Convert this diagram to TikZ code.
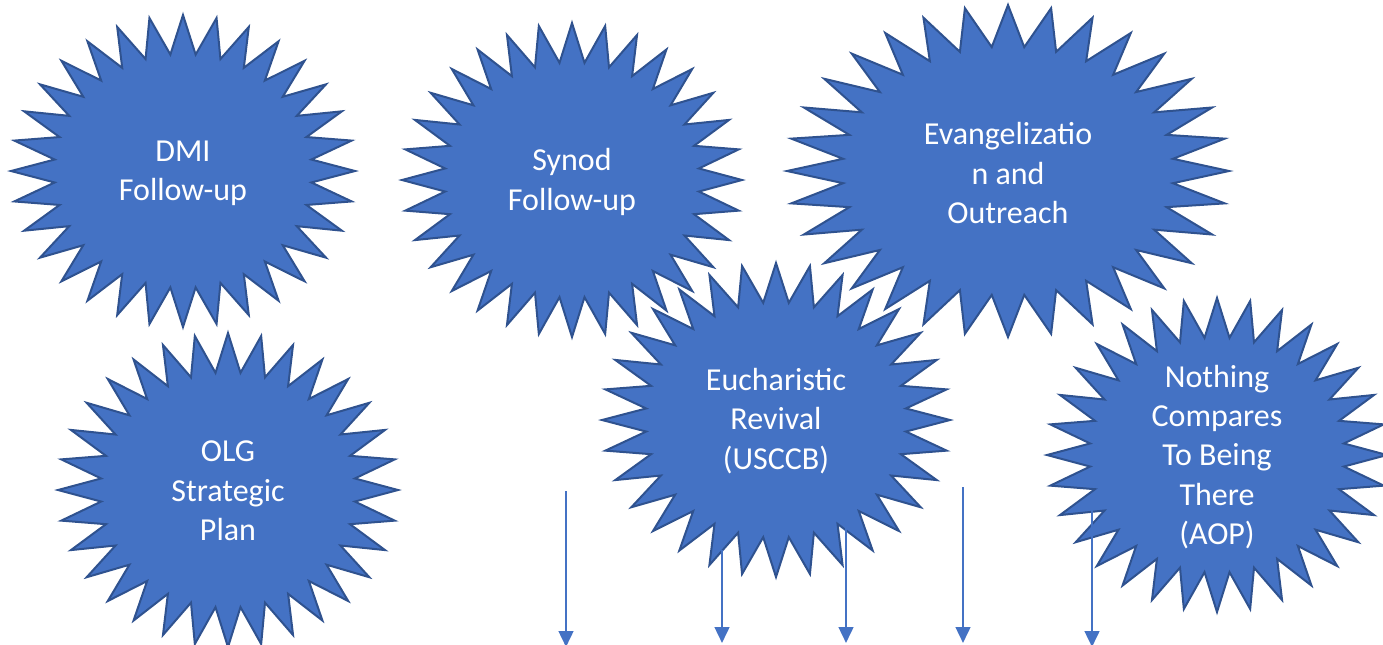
\documentclass[tikz,border=0pt]{standalone}
\usepackage{fontspec}
\setmainfont{Carlito}
\usetikzlibrary{arrows.meta}
\definecolor{burstfill}{HTML}{4472C4}
\definecolor{burstline}{HTML}{2F528F}
\definecolor{arrowblue}{HTML}{4472C4}
\tikzset{
  burst/.style={fill=burstfill, draw=burstline, line width=1.5pt, line join=miter},
  bursttext/.style={text=white, align=center, font=\fontsize{24}{29.5}\selectfont, inner sep=0pt},
  flowarrow/.style={draw=arrowblue, line width=1.9pt, -{Triangle[width=11pt,length=12pt]}},
}
\newcommand\drawburst[4]{%
  \draw[burst] plot[samples at={0,...,63}, variable=\k]
    ({#1+#3*(1-0.25*mod(\k,2))*cos(\k*5.625)}, {#2+#4*(1-0.25*mod(\k,2))*sin(\k*5.625)}) -- cycle;}
\begin{document}
\begin{tikzpicture}[x=0.75pt, y=-0.75pt]
\useasboundingbox (0,0) rectangle (1383,644);
% stars
\drawburst{183}{171}{172}{156}
\node[bursttext] (dmi) at (183,173) {DMI\\Follow-up};
\drawburst{228}{490}{170}{157}
\node[bursttext] (olg) at (228,491) {OLG\\Strategic\\Plan};
\drawburst{572}{180}{170}{157}
\node[bursttext] (synod) at (572,182) {Synod\\Follow-up};
\drawburst{1008}{171}{221}{166}
\node[bursttext] (evang) at (1008,173) {Evangelizatio\\n and\\Outreach};
\drawburst{776}{420}{174}{157}
\node[bursttext] (euch) at (776,421) {Eucharistic\\Revival\\(USCCB)};
\drawburst{1217}{455}{170}{157}
\node[bursttext] (ncbt) at (1217,457) {Nothing\\Compares\\To Being\\There\\(AOP)};
% arrows
\coordinate (a1s) at (566,491); \coordinate (a1e) at (566,647);
\coordinate (a2s) at (722,550); \coordinate (a2e) at (722,643);
\coordinate (a3s) at (846,527); \coordinate (a3e) at (846,643);
\coordinate (a4s) at (963,487); \coordinate (a4e) at (963,643);
\coordinate (a5s) at (1092,510); \coordinate (a5e) at (1092,647);
\draw[flowarrow] (a1s) -- (a1e);
\draw[flowarrow] (a2s) -- (a2e);
\draw[flowarrow] (a3s) -- (a3e);
\draw[flowarrow] (a4s) -- (a4e);
\draw[flowarrow] (a5s) -- (a5e);
\end{tikzpicture}
\end{document}
